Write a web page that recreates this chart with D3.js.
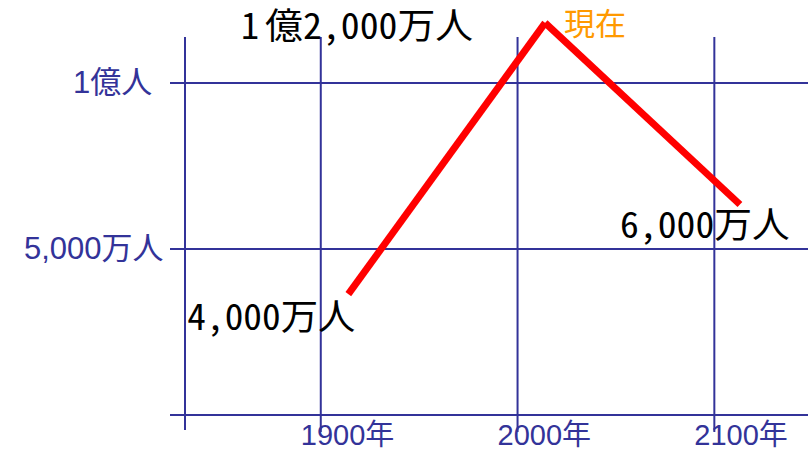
<!DOCTYPE html>
<html><head><meta charset="utf-8">
<script src="https://cdn.jsdelivr.net/npm/d3@7"></script>
<style>html,body{margin:0;padding:0;background:#fff;}svg{display:block;}</style>
</head><body>
<svg id="c" width="808" height="452"></svg>
<script>
// ---- data ----
const years = [1914, 2014, 2113];
const population = [3640, 11810, 6340]; // 万人
const pointLabels = ["4,000万人", "1 億2,000万人", "6,000万人"];
const nowLabel = "現在";
const xTicks = [1900, 2000, 2100];
const xTickLabels = ["1900年", "2000年", "2100年"];
const yTicks = [5000, 10000];
const yTickLabels = ["5,000万人", "1億人"];

// ---- layout ----
const W = 808, H = 452;
const blue = "#333399";
const svg = d3.select("#c");
const x = d3.scaleLinear().domain([1831, 2147.6]).range([185, 808]);
const y = d3.scaleLinear().domain([0, 10000]).range([415, 83]);
const gridTop = 37, gridBottom = 432, gridLeft = 170;

// horizontal lines (incl. bottom axis at 0)
svg.selectAll("line.h").data([0].concat(yTicks)).join("line")
  .attr("x1", gridLeft).attr("x2", W)
  .attr("y1", d => y(d)).attr("y2", d => y(d))
  .attr("stroke", blue).attr("stroke-width", 2);
// left axis
svg.append("line")
  .attr("x1", x.range()[0]).attr("x2", x.range()[0])
  .attr("y1", gridTop).attr("y2", 430)
  .attr("stroke", blue).attr("stroke-width", 2);
// vertical grid lines
svg.selectAll("line.v").data(xTicks).join("line")
  .attr("x1", d => x(d)).attr("x2", d => x(d))
  .attr("y1", gridTop).attr("y2", gridBottom)
  .attr("stroke", blue).attr("stroke-width", 2);

// x tick labels
svg.selectAll("text.xt").data(xTicks).join("text")
  .attr("x", d => x(d) - 20).attr("y", 445)
  .attr("font-family", "'Liberation Sans', Arial, 'Noto Sans CJK JP', sans-serif")
  .attr("font-size", 29).attr("fill", blue)
  .text((d, i) => xTickLabels[i]);

// y tick labels
const yLabelX = [24, 73];
svg.selectAll("text.yt").data(yTicks).join("text")
  .attr("x", (d, i) => yLabelX[i]).attr("y", d => y(d) + 10)
  .attr("font-family", "'Liberation Sans', Arial, 'Noto Sans CJK JP', sans-serif")
  .attr("font-size", 31).attr("fill", blue)
  .text((d, i) => yTickLabels[i]);

// red line: drawn as separate segments (butt caps)
const pts = years.map((yr, i) => [x(yr), y(population[i])]);
const line = d3.line();
for (let i = 0; i < pts.length - 1; i++) {
  svg.append("path").attr("d", line([pts[i], pts[i + 1]]))
    .attr("fill", "none").attr("stroke", "#ff0000")
    .attr("stroke-width", 7).attr("stroke-linecap", "butt");
}

// point labels
const labelFont = "'Noto Sans Mono CJK JP', 'Noto Sans CJK JP', monospace";
const lblDx = [-161, -304, -120];
const lblDy = [36, 16, 33];
const lblLen = [168, 230, 170];
pointLabels.forEach((t, i) => {
  const txt = svg.append("text")
    .attr("x", pts[i][0] + lblDx[i]).attr("y", pts[i][1] + lblDy[i])
    .attr("font-family", labelFont).attr("font-size", 36).attr("fill", "#000");
  const sp = t.indexOf(" ");
  if (sp > 0) {
    // leading part ("1 ") narrower, rest slightly wider, as in the reference
    const x0 = pts[i][0] + lblDx[i];
    txt.append("tspan").attr("x", x0)
      .attr("textLength", 24).attr("lengthAdjust", "spacing")
      .text(t.slice(0, sp + 1));
    txt.append("tspan").attr("x", x0 + 24)
      .attr("textLength", lblLen[i] - 22).attr("lengthAdjust", "spacingAndGlyphs")
      .text(t.slice(sp + 1));
  } else {
    txt.attr("textLength", lblLen[i]).attr("lengthAdjust", "spacingAndGlyphs").text(t);
  }
});
// 現在
svg.append("text")
  .attr("x", pts[1][0] + 19).attr("y", pts[1][1] + 12)
  .attr("font-family", "'Noto Sans CJK JP', sans-serif")
  .attr("font-size", 31).attr("fill", "#ff9900")
  .text(nowLabel);
</script>
</body></html>
